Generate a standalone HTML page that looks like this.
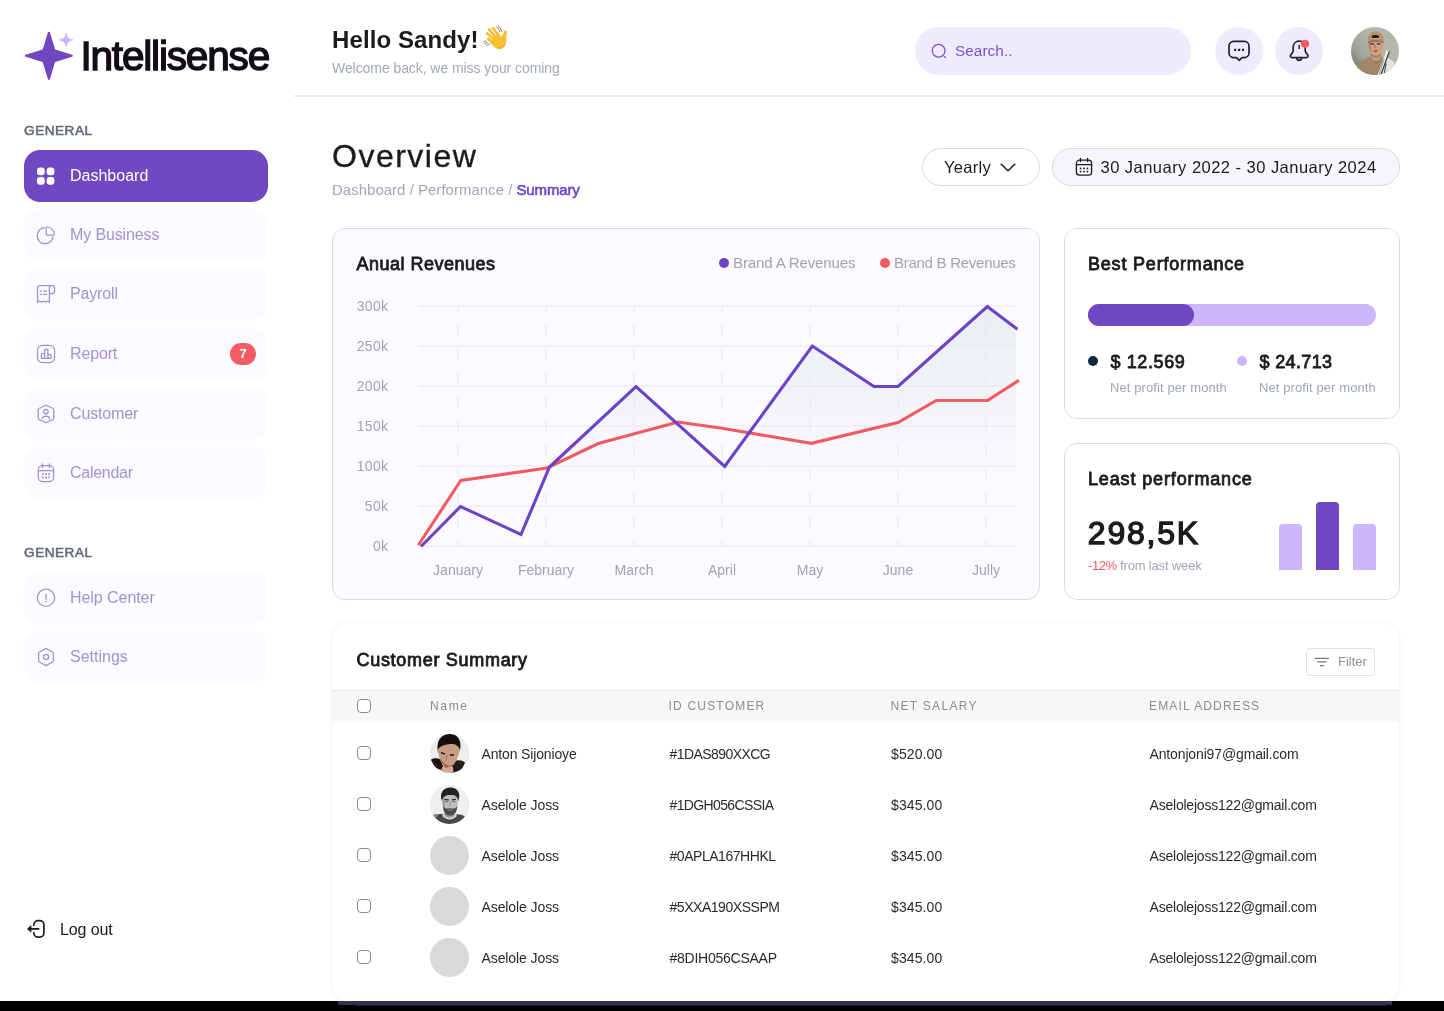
<!DOCTYPE html>
<html lang="en">
<head>
<meta charset="utf-8">
<title>Intellisense Dashboard</title>
<style>
*{box-sizing:border-box;margin:0;padding:0}
html,body{width:1444px;height:1011px;overflow:hidden;background:#fff}
body{font-family:"Liberation Sans",sans-serif;position:relative;color:#1b1b1f;will-change:transform}
.abs{position:absolute}
.t{position:absolute;white-space:nowrap;line-height:1}
/* sidebar */
.nav{position:absolute;left:24px;width:244px;height:52px;border-radius:16px;background:#fbfaff}
.nav.active{background:#7148c1;border-radius:16px}
.nav .lbl{position:absolute;left:46px;top:17.5px;font-size:16px;line-height:1;color:#a392cf;white-space:nowrap;letter-spacing:0}
.nav.active .lbl{color:#fff}
.nav svg{position:absolute;left:11px;top:15px;width:22px;height:22px;fill:none;stroke:#a38fd0;stroke-width:1.25;stroke-linecap:round;stroke-linejoin:round}
.sec{position:absolute;left:24.1px;font-size:13.6px;line-height:1;letter-spacing:.5px;color:#5f6875;-webkit-text-stroke:.55px #5f6875;white-space:nowrap}
/* header */
.hline{position:absolute;left:294px;top:95px;width:1150px;height:2px;background:#ebebed}
.circ{position:absolute;top:27px;width:48px;height:48px;border-radius:50%;background:#f0ebfc}
.card{position:absolute;border:1px solid #dcdce0;border-radius:13px;background:#fff}
.muted{color:#a1a6b7}
.sb{color:#1b1b1f;-webkit-text-stroke:.8px #1b1b1f}
.ylab{right:1055.7px;font-size:14px;letter-spacing:.3px;color:#9fa3b5;text-align:right}
.xlab{top:563.2px;font-size:14px;color:#9fa3b3;transform:translateX(-50%)}
/* table */
.th{position:absolute;top:700.3px;font-size:12px;line-height:1;color:#8d8d91;letter-spacing:1.3px;white-space:nowrap}
.td{position:absolute;font-size:14px;line-height:1;color:#2a2a2e;white-space:nowrap}
.cb{position:absolute;left:357px;width:14px;height:14px;border:1.35px solid #8a8a8e;border-radius:4px;background:#fff}
.av{position:absolute;left:430px;width:39px;height:39px;border-radius:50%;background:#d9d9d9;overflow:hidden}
</style>
</head>
<body>

<!-- ================= SIDEBAR ================= -->
<svg class="abs" style="left:22px;top:28px" width="56" height="56" viewBox="0 0 56 56">
  <path d="M26.9 4.9 L32.2 22.4 L49.7 27.8 L32.2 33.200 L26.900 50.800 L21.600 33.200 L4 27.800 L21.600 22.400 Z" fill="#7047c0" stroke="#7047c0" stroke-width="2.200" stroke-linejoin="round"/>
  <path d="M44.100 5 C44.700 9.300 46.200 10.900 51 11.900 C46.200 12.900 44.700 14.500 44.100 18.800 C43.500 14.500 42 12.900 37.200 11.900 C42 10.900 43.500 9.300 44.100 5Z" fill="#c9b2fa" stroke="#c9b2fa" stroke-width=".7" stroke-linejoin="round"/>
</svg>
<div class="t" id="logo" style="left:80.4px;top:36.3px;font-size:40.6px;letter-spacing:-1.2px;color:#120d18;-webkit-text-stroke:1.4px #120d18">Intellisense</div>

<div class="sec" style="top:123.7px">GENERAL</div>

<div class="nav active" style="top:150px">
  <svg viewBox="0 0 22 22" style="stroke:none;fill:#fff"><rect x="2" y="2.500" width="7.700" height="7.700" rx="3"/><rect x="11.700" y="2.500" width="7.700" height="7.700" rx="3"/><rect x="2" y="12" width="7.700" height="7.700" rx="3"/><rect x="11.700" y="12" width="7.700" height="7.700" rx="3"/></svg>
  <div class="lbl" style="letter-spacing:0.0px">Dashboard</div>
</div>
<div class="nav" style="top:209px">
  <svg viewBox="0 0 22 22"><path d="M9.6 3.700 A8 8 0 1 0 18.100 12.900"/><path d="M11.200 4 A1 1 0 0 1 12.200 3 A7.400 7.400 0 0 1 19.300 10 A1 1 0 0 1 18.300 11 H12.200 A1 1 0 0 1 11.200 10 Z"/></svg>
  <div class="lbl" style="letter-spacing:-0.12px">My Business</div>
</div>
<div class="nav" style="top:268px">
  <svg viewBox="0 0 22 22"><path d="M16.800 2.500 H4.900 A2.400 2.400 0 0 0 2.500 4.900 V19.300 L4.500 18 L6.500 19.300 L8.450 18 L10.400 19.300 L12.400 18 L14.400 19.300 V4.900 A2.400 2.400 0 0 1 16.800 2.500 A2.700 2.700 0 0 1 19.500 5.200 V8.500 A2 2 0 0 1 17.500 10.500 H14.400"/><path d="M5.200 8.100h1.200M8.600 8.100h2.800M5.200 11.400h1.200M8.600 11.400h2.800"/></svg>
  <div class="lbl" style="letter-spacing:-0.15px">Payroll</div>
</div>
<div class="nav" style="top:328px">
  <svg viewBox="0 0 22 22"><rect x="2.500" y="2.400" width="17.100" height="17.200" rx="5"/><path d="M6.400 15.300 V11.400 A.8 .8 0 0 1 7.200 10.600 H9.600 V15.300 Z M9.600 15.300 V7.100 A.8 .8 0 0 1 10.400 6.300 H12.100 A.8 .8 0 0 1 12.900 7.100 V15.300 Z M12.900 15.300 V11.500 H15.300 A.8 .8 0 0 1 16.100 12.300 V15.300 Z" stroke-width="1.250"/></svg>
  <div class="lbl" style="letter-spacing:-0.15px">Report</div>
  <div class="abs" style="left:206px;top:15px;width:26px;height:22px;border-radius:11px;background:#f25c62;color:#fff;font-size:13px;font-weight:bold;line-height:22px;text-align:center">7</div>
</div>
<div class="nav" style="top:388px">
  <svg viewBox="0 0 22 22"><path d="M11 2.2 L17.6 5.2 A2 2 0 0 1 18.8 7 V15 A2 2 0 0 1 17.6 16.8 L11 19.8 L4.4 16.8 A2 2 0 0 1 3.2 15 V7 A2 2 0 0 1 4.4 5.2 Z"/><circle cx="10.900" cy="8.600" r="2.250"/><path d="M7.100 15.900 A4 4 0 0 1 14.700 15.900"/></svg>
  <div class="lbl" style="letter-spacing:-0.15px">Customer</div>
</div>
<div class="nav" style="top:447px">
  <svg viewBox="0 0 22 22"><rect x="3.300" y="3.600" width="15.300" height="15.900" rx="4.200"/><path d="M3.300 8.500h15.300M7.400 1.900v3.700M14.400 1.900v3.700"/><path d="M8 12.200h.01M11 12.200h.01M14 12.200h.01M8 15.300h.01M11 15.300h.01M14 15.300h.01" stroke-width="1.700" stroke-linecap="square"/></svg>
  <div class="lbl" style="letter-spacing:-0.27px">Calendar</div>
</div>

<div class="sec" style="top:545.7px">GENERAL</div>

<div class="nav" style="top:572px">
  <svg viewBox="0 0 22 22"><circle cx="11" cy="10.800" r="8.600"/><path d="M11 7.300v5.200"/><path d="M11 14.500h.01" stroke-width="1.700"/></svg>
  <div class="lbl" style="letter-spacing:-0.06px">Help Center</div>
</div>
<div class="nav" style="top:631px">
  <svg viewBox="0 0 22 22"><path d="M11 2.4 L17.4 6 A1.8 1.8 0 0 1 18.4 7.6 V14.4 A1.8 1.8 0 0 1 17.4 16 L11 19.6 L4.6 16 A1.8 1.8 0 0 1 3.6 14.4 V7.6 A1.8 1.8 0 0 1 4.6 6 Z"/><circle cx="11" cy="11" r="2.6"/></svg>
  <div class="lbl" style="letter-spacing:0.0px">Settings</div>
</div>

<svg class="abs" style="left:24px;top:917px;fill:none;stroke:#1b1b1f;stroke-width:1.7;stroke-linecap:round;stroke-linejoin:round" width="24" height="24" viewBox="0 0 24 24"><path d="M9.800 8.200 V8 A4.100 4.100 0 0 1 13.900 3.700 H15.800 A4.100 4.100 0 0 1 19.900 7.800 V16 A4.100 4.100 0 0 1 15.800 20.100 H13.900 A4.100 4.100 0 0 1 9.800 16 V15.600"/><path d="M14.600 11.900 H5"/><path d="M6.800 9.200 L3.800 11.900 L6.800 14.600 Z" fill="#1b1b1f" stroke-width="1.200"/></svg>
<div class="t" style="left:60px;top:921.5px;font-size:16px;color:#1b1b1f;letter-spacing:-.1px">Log out</div>

<!-- ================= HEADER ================= -->
<div class="t" style="left:332px;top:27.6px;font-size:24px;font-weight:bold;color:#1b1b1f;letter-spacing:.1px">Hello Sandy!</div>
<svg class="abs" style="left:476px;top:20px" width="40" height="36" viewBox="0 0 40 36">
  <g stroke="#f9bd2d" stroke-width="2.7" stroke-linecap="round" fill="none">
    <path d="M16.9 8.2 L23.2 15.8"/><path d="M12.9 9.4 L20 17.4"/><path d="M11.3 13.4 L18.6 20"/><path d="M12.1 18.9 L18 23"/>
    <path d="M29.6 11.9 C29.2 13.6 28.4 15 27.6 17" stroke-width="3.1"/>
  </g>
  <path d="M20.2 14.5 L25.6 16.4 L27 13.5 L30.4 13 C30 17 30.6 19.5 30.3 22 C30 25.5 27 28.8 23.4 28.9 C20.6 29 18 26.6 15.8 24.6 L13.6 22.4 Z" fill="#fbc032"/>
  <path d="M30.3 22 C30 25.5 27 28.8 23.4 28.9 C21.6 29 20 28 18.6 26.9 C22 28.4 28 27.6 30.3 22Z" fill="#e9a11f" opacity=".75"/>
  <g stroke="#6a6a6a" stroke-width=".9" stroke-linecap="round" fill="none">
    <path d="M20.6 7.2 C22.2 8 23.4 9.8 23.8 11.7"/><path d="M22.2 6 C24 7 25.2 9.2 25.6 11.3"/>
    <path d="M7.8 21.4 C8.4 23.2 9.8 24.8 11.5 25.6"/><path d="M9.5 20.7 C10.2 22.4 11.6 23.9 13.3 24.6"/>
  </g>
</svg>
<div class="t muted" style="left:332px;top:61.4px;font-size:14px;letter-spacing:-.07px;color:#a3a7ba">Welcome back, we miss your coming</div>
<div class="hline"></div>

<div class="abs" style="left:915px;top:27px;width:276px;height:48px;border-radius:24px;background:#f0ebfc"></div>
<svg class="abs" style="left:929px;top:41px;fill:none;stroke:#7b52d3;stroke-width:1.3;stroke-linecap:round" width="20" height="20" viewBox="0 0 20 20"><circle cx="9.6" cy="9.8" r="6.4"/><path d="M15.2 15.6l1.2 .9"/></svg>
<div class="t" style="left:955px;top:43.2px;font-size:15.3px;color:#7a50d2;letter-spacing:.07px">Search..</div>

<div class="circ" style="left:1215px"></div>
<div class="circ" style="left:1275px"></div>
<svg class="abs" style="left:1225px;top:37px;fill:none;stroke:#231f3b;stroke-width:1.7;stroke-linecap:round;stroke-linejoin:round" width="28" height="28" viewBox="0 0 28 28">
  <path d="M8.6 4.4 H19.4 A4.6 4.6 0 0 1 24 9 V16 A4.6 4.6 0 0 1 19.4 20.6 H17 L14.2 23.4 L11.400 20.6 H8.6 A4.6 4.6 0 0 1 4 16 V9 A4.6 4.6 0 0 1 8.6 4.4 Z"/>
  <path d="M10.2 12.9h.01M14.1 12.9h.01M18 12.9h.01" stroke-width="2.1" stroke-linecap="square"/>
</svg>
<svg class="abs" style="left:1285px;top:37px;fill:none;stroke:#231f3b;stroke-width:1.7;stroke-linecap:round;stroke-linejoin:round" width="28" height="28" viewBox="0 0 28 28">
  <path d="M14.200 4.200 C10.4 4.200 8.2 7 8.2 10.4 V13.600 C8.2 15.4 7 16.6 5.900 17.600 C4.800 18.700 5.400 20.600 7.200 20.600 H21.200 C23 20.600 23.600 18.700 22.500 17.600 C21.400 16.600 20.200 15.400 20.200 13.600 V10.400 C20.200 7 18 4.200 14.200 4.200 Z"/>
  <path d="M11.600 20.800 C12 22.600 13 23.400 14.200 23.400 C15.400 23.400 16.400 22.600 16.800 20.800"/>
  <path d="M14.200 8.400 V11.600" stroke-width="1.5"/>
  <circle cx="20" cy="6.800" r="4.100" fill="#f45b61" stroke="none"/>
</svg>
<svg class="abs" style="left:1351px;top:27px" width="48" height="48" viewBox="0 0 48 48">
  <defs><clipPath id="cpa"><circle cx="24" cy="24" r="24"/></clipPath>
  <linearGradient id="gbg" x1="0" y1=".8" x2=".55" y2=".35"><stop offset="0" stop-color="#6d6f78"/><stop offset=".4" stop-color="#9fa299"/><stop offset="1" stop-color="#b3b7aa"/></linearGradient></defs>
  <g clip-path="url(#cpa)">
    <rect width="48" height="48" fill="url(#gbg)"/>
    <path d="M35.500 30 L43.500 35 L40 46 L28 50 Z" fill="#e2e7d9"/>
    <path d="M4.800 37.200 C9 34 15 31.500 19.800 29.200 L29.800 29.200 C31.200 30 32.400 30.800 33.400 31.800 L27.500 48 H8 Z" fill="#a08769"/>
    <path d="M19.800 29.200 C21 33.500 23 36 25.200 37 C27 35.500 28.800 33 29.800 29.200 Z" fill="#8a7258"/>
    <path d="M20.200 24 H29.600 V31 C27.500 35.500 22.500 35.500 20.200 31 Z" fill="#c59a7b"/>
    <path d="M20.200 26.500 C22.500 29.500 27 29.500 29.600 26.500 V28.500 C27 31 22.500 31 20.200 28.500 Z" fill="#9c7359" opacity=".8"/>
    <path d="M17.400 14 C17.400 9 32.400 9 32.600 14 C33 19 32 23 29.600 26 C27.200 28.800 22.400 28.800 20.200 26 C18 23 17.200 19 17.400 14 Z" fill="#cda081"/>
    <path d="M17.400 14.500 C17.300 19 18 23 20.200 26 C20.400 22 19.600 18 20 14.500 Z" fill="#a57a60" opacity=".75"/>
    <path d="M17 14.800 C16.200 8 19.800 4.200 24.800 4.200 C29.800 4.200 33.200 8 32.600 14.800 C28 12.800 21.500 12.800 17 14.800 Z" fill="#bb8f72"/>
    <path d="M17 14.800 C21.500 12.800 28 12.800 32.600 14.800 L32.500 16 C28 14.300 21.500 14.300 17.100 16 Z" fill="#8d6750"/>
    <ellipse cx="24.400" cy="9.800" rx="3.700" ry="1.800" fill="#1b1512"/>
    <path d="M21.200 11.500 h6.400" stroke="#d7ad8e" stroke-width="1.100"/>
    <path d="M19.600 16.900 h3.400 M25.900 16.900 h3.400" stroke="#33282a" stroke-width="1.300"/>
    <path d="M23.900 17.600 V21.300" stroke="#94705a" stroke-width="1.100"/>
    <ellipse cx="24.600" cy="24.100" rx="2.200" ry="1.050" fill="#c9504f"/>
    <path d="M35.600 23.600 L38.400 24.200 L29.200 49 L26.400 49 Z" fill="#f3f5ee"/>
    <path d="M38.400 24.200 L32.400 41 L29.800 48" stroke="#33363f" stroke-width="1.200" fill="none"/>
    <path d="M35.200 36.500 L33.200 46.500" stroke="#3a3d45" stroke-width="1" fill="none"/>
    <path d="M33.200 32.500 L28.400 47" stroke="#74777a" stroke-width=".7" fill="none"/>
  </g>
</svg>

<!-- ================= OVERVIEW ================= -->
<div class="t" style="left:332px;top:140px;font-size:32px;color:#1b1b1f;letter-spacing:1.5px;-webkit-text-stroke:.35px #1b1b1f">Overview</div>
<div class="t" style="left:332px;top:182.4px;font-size:15px;letter-spacing:.01px;color:#a3a7ba"><span id="bc1">Dashboard / Performance / </span><span id="t_sum" style="color:#6c47c7;-webkit-text-stroke:.6px #6c47c7;letter-spacing:-.15px">Summary</span></div>

<div class="abs" style="left:922px;top:148px;width:118px;height:38px;border-radius:19px;border:1px solid #d9d9de;background:#fff"></div>
<div class="t" style="left:944px;top:158.6px;font-size:16.5px;letter-spacing:.3px;color:#1b1b1f">Yearly</div>
<svg class="abs" style="left:999px;top:160px;fill:none;stroke:#1b1b1f;stroke-width:1.5;stroke-linecap:round;stroke-linejoin:round" width="18" height="14" viewBox="0 0 18 14"><path d="M2.2 4.2 L9 10.8 L15.8 4.2"/></svg>

<div class="abs" style="left:1052px;top:148px;width:348px;height:38px;border-radius:19px;border:1px solid #d9d9de;background:#f5f5fc"></div>
<svg class="abs" style="left:1073px;top:156px;fill:none;stroke:#1b1b1f;stroke-width:1.3;stroke-linecap:round;stroke-linejoin:round" width="22" height="22" viewBox="0 0 22 22"><rect x="3.4" y="4.2" width="15.2" height="15" rx="3.2"/><path d="M3.4 8.6h15.2M7.4 2.4v3.2M14.6 2.4v3.2"/><path d="M7.6 12.4h.01M11 12.4h.01M14.4 12.4h.01M7.6 15.6h.01M11 15.6h.01M14.4 15.6h.01" stroke-width="1.8"/></svg>
<div class="t" style="left:1100.5px;top:158.6px;font-size:16.5px;letter-spacing:.47px;color:#1b1b1f">30 January 2022 - 30 January 2024</div>

<!-- ================= CHART CARD ================= -->
<div class="card" style="left:332px;top:228px;width:708px;height:372px;background:#fcfaff"></div>
<div class="t sb" id="t_anual" style="left:356.5px;top:254.8px;font-size:18px;letter-spacing:.5px">Anual Revenues</div>
<div class="abs" style="left:719px;top:257.5px;width:10px;height:10px;border-radius:50%;background:#6c43c6"></div>
<div class="t" style="left:733px;top:255.3px;font-size:15px;letter-spacing:-.12px;color:#9fa3b3">Brand A Revenues</div>
<div class="abs" style="left:879.5px;top:257.5px;width:10px;height:10px;border-radius:50%;background:#f05b60"></div>
<div class="t" style="left:894px;top:255.3px;font-size:15px;letter-spacing:-.27px;color:#9fa3b3">Brand B Revenues</div>

<div class="t ylab" style="top:299px">300k</div>
<div class="t ylab" style="top:339px">250k</div>
<div class="t ylab" style="top:379px">200k</div>
<div class="t ylab" style="top:419px">150k</div>
<div class="t ylab" style="top:459px">100k</div>
<div class="t ylab" style="top:499px">50k</div>
<div class="t ylab" style="top:539px">0k</div>

<div class="t xlab" style="left:458px">January</div>
<div class="t xlab" style="left:546px">February</div>
<div class="t xlab" style="left:634px">March</div>
<div class="t xlab" style="left:722px">April</div>
<div class="t xlab" style="left:810px">May</div>
<div class="t xlab" style="left:898px">June</div>
<div class="t xlab" style="left:986px">Jully</div>

<svg class="abs" style="left:400px;top:290px" width="640" height="270" viewBox="400 290 640 270">
  <defs>
    <linearGradient id="ga" x1="0" y1="306" x2="0" y2="546" gradientUnits="userSpaceOnUse">
      <stop offset="0" stop-color="#e0e8ed" stop-opacity=".66"/>
      <stop offset=".38" stop-color="#e3eaf0" stop-opacity=".42"/>
      <stop offset=".72" stop-color="#ece9f6" stop-opacity="0"/>
      <stop offset="1" stop-color="#f4f2fb" stop-opacity="0"/>
    </linearGradient>
  </defs>
  <g stroke="#f1f0f5" stroke-width="2">
    <path d="M418 306H1016M418 346H1016M418 386H1016M418 426H1016M418 466H1016M418 506H1016M418 546H1016"/>
    <path d="M458 306V546M546 306V546M634 306V546M722 306V546M810 306V546M898 306V546M986 306V546" stroke-dasharray="12 12" stroke-dashoffset="6"/>
  </g>
  <path d="M421 546.5 L460.5 506.5 L521 534.5 L549.5 467 L636 386.5 L724.7 466.5 L812.3 346 L874 386.5 L898 386.5 L987.3 306.5 L1016 328 L1016 546.5 Z" fill="url(#ga)"/>
  <path d="M418.4 545 L460.8 480.5 L547 468 L598.3 443.5 L678 422 L722 428.3 L811.3 443.3 L898 422.5 L936.2 400.5 L987.5 400.5 L1019 380.3" fill="none" stroke="#f05b60" stroke-width="3.1" stroke-linejoin="miter"/>
  <path d="M421 546.5 L460.5 506.5 L521 534.5 L549.5 467 L636 386.5 L724.7 466.5 L812.3 346 L874 386.5 L898 386.5 L987.3 306.5 L1017.5 329.3" fill="none" stroke="#6c43c6" stroke-width="3.1" stroke-linejoin="miter"/>
</svg>

<!-- ================= BEST PERFORMANCE ================= -->
<div class="card" style="left:1064px;top:228px;width:336px;height:191px"></div>
<div class="t sb" id="t_best" style="left:1088px;top:254.8px;font-size:18px;letter-spacing:.8px">Best Performance</div>
<div class="abs" style="left:1088px;top:304px;width:288px;height:22px;border-radius:11px;background:#cdb6fb"></div>
<div class="abs" style="left:1088px;top:304px;width:106px;height:22px;border-radius:11px;background:#7047c0"></div>
<div class="abs" style="left:1088px;top:355.8px;width:10px;height:10px;border-radius:50%;background:#0f2b3d"></div>
<div class="t sb" id="t_d1" style="left:1110.5px;top:352.8px;font-size:18px;letter-spacing:.6px">$ 12.569</div>
<div class="t" style="left:1110px;top:381px;font-size:13px;letter-spacing:.1px;color:#a0a4b8">Net profit per month</div>
<div class="abs" style="left:1237px;top:355.8px;width:10px;height:10px;border-radius:50%;background:#cdb6fb"></div>
<div class="t sb" id="t_d2" style="left:1259.5px;top:352.8px;font-size:18px;letter-spacing:.35px">$ 24.713</div>
<div class="t" style="left:1259px;top:381px;font-size:13px;letter-spacing:.1px;color:#a0a4b8">Net profit per month</div>

<!-- ================= LEAST PERFORMANCE ================= -->
<div class="card" style="left:1064px;top:443px;width:336px;height:157px"></div>
<div class="t sb" id="t_least" style="left:1088px;top:469.8px;font-size:18px;letter-spacing:.86px">Least performance</div>
<div class="t" id="t_298" style="left:1087.8px;top:517.4px;font-size:32px;letter-spacing:1.8px;color:#1b1b1f;-webkit-text-stroke:1.3px #1b1b1f">298,5K</div>
<div class="t" style="left:1088px;top:559px;font-size:13px;letter-spacing:-.16px;color:#a0a4b8"><span style="color:#f0585f;letter-spacing:-.45px">-12%</span> from last week</div>
<div class="abs" style="left:1279px;top:524px;width:23px;height:46px;border-radius:4px 4px 0 0;background:#cdb6fb"></div>
<div class="abs" style="left:1316px;top:502px;width:23px;height:68px;border-radius:4px 4px 0 0;background:#7047c0"></div>
<div class="abs" style="left:1353px;top:524px;width:23px;height:46px;border-radius:4px 4px 0 0;background:#cdb6fb"></div>

<!-- ================= CUSTOMER SUMMARY ================= -->
<div class="abs" style="left:332px;top:623.400px;width:1067.400px;height:377.600px;border-radius:16px;background:#fff;box-shadow:0 0 1.500px rgba(110,100,150,.22),0 1px 6px rgba(150,130,210,.06)"></div>
<div class="t sb" id="t_cust" style="left:356.5px;top:650.8px;font-size:18px;letter-spacing:.7px">Customer Summary</div>
<div class="abs" style="left:1306px;top:648px;width:69px;height:28px;border:1px solid #e1e1e4;border-radius:4px;background:#fff"></div>
<svg class="abs" style="left:1313px;top:654px;fill:none;stroke:#77777b;stroke-width:1.4;stroke-linecap:round" width="18" height="16" viewBox="0 0 18 16"><path d="M2.400 4.400h13M4.800 7.900h8.200M7.400 11.600h3"/></svg>
<div class="t" style="left:1338px;top:655.2px;font-size:13px;color:#8f8f93">Filter</div>

<div class="abs" style="left:332px;top:690px;width:1067.400px;height:32px;background:#f7f7f7;border-top:1px solid #e8e8ea"></div>
<div class="cb" style="top:699.0px"></div>
<div class="th" style="left:430px;letter-spacing:1.65px">Name</div>
<div class="th" style="left:668.5px;letter-spacing:1.2px">ID CUSTOMER</div>
<div class="th" style="left:890.5px">NET SALARY</div>
<div class="th" style="left:1149px;letter-spacing:1.15px">EMAIL ADDRESS</div>
<div class="cb" style="top:746.0px"></div>
<div class="av" id="av1" style="top:734.0px"><svg width="39" height="39" viewBox="0 0 39 39"><rect width="39" height="39" fill="#eeeeee"/>
<path d="M0.500 26 C3 23.800 7 23.600 10.500 25.500 L15 37 L5 34 Z" fill="#1a1310"/>
<path d="M22.500 28.500 C26 25.500 31 25.500 35 28.500 L31 37 L21 40 Z" fill="#1c1411"/>
<path d="M7.600 13.500 C6.500 14 6.800 18 8.600 19.500 C9 24 11 29 14.500 32.500 C17 35 20.500 34.500 23 31.500 C26.500 27.500 28.500 22.500 29.200 17.500 C30.800 16.500 31 13.500 29.800 13.500 C27 7 11 7 7.600 13.500 Z" fill="#c99d84"/>
<path d="M9.500 22 C11 27 13 31 16 33.500 C18.500 35 21.500 33.500 23.500 30.500 C21 32.500 17 32 14.500 29.500 C12.500 27.500 10.500 25 9.500 22Z" fill="#6f4d3e" opacity=".75"/>
<path d="M12 33 C14.500 31.500 19.500 31.500 23 33 L23.500 39 H11 Z" fill="#d6aa92"/>
<path d="M7.800 15.500 C6.500 7 11 0.300 19.500 0 C27.500 -0.200 32 6 30 15.500 C28 11.500 25.500 9.500 20.500 10 C15 10.500 10.500 11.500 7.800 15.500 Z" fill="#150f0e"/>
<path d="M11 18.500 l4 1.600 M19.800 21.300 l4.200 -.5" stroke="#231815" stroke-width="1.500"/>
<path d="M17 21 L15.600 27.500" stroke="#a87b64" stroke-width="1.100"/>
<ellipse cx="16.600" cy="32.400" rx="2.400" ry="1.250" fill="#c4525a"/>
<path d="M24.500 30 l5 4.500 M27.500 28 l5 5 M2.500 27.500 l5 4.500 M29 27 l3.500 2.500" stroke="#7a4630" stroke-width=".8" opacity=".75"/>
</svg></div>
<div class="td c1" style="left:481.5px;top:746.9px;letter-spacing:-0.15px">Anton Sijonioye</div>
<div class="td c2" style="left:669.5px;top:746.9px;letter-spacing:-0.56px">#1DAS890XXCG</div>
<div class="td c3" style="left:891px;top:746.9px;letter-spacing:0.1px">$520.00</div>
<div class="td c4" style="left:1149.5px;top:746.9px;letter-spacing:-0.14px">Antonjoni97@gmail.com</div>
<div class="cb" style="top:797.0px"></div>
<div class="av" id="av2" style="top:785.0px"><svg width="39" height="39" viewBox="0 0 39 39"><rect width="39" height="39" fill="#efefef"/>
<path d="M2 30.800 C6 29.500 10 28.500 14 29.500 L25 29.500 C28 28.800 32 29.500 35 31.500 L32 40 H5 Z" fill="#474747"/>
<path d="M2 30.800 L5.500 28.800 L8.500 29.300 L6 33 Z" fill="#8d8d8d"/>
<path d="M13.200 28.200 H25.800 L26.800 31 C23 35.500 16.500 35.500 12.200 31 Z" fill="#d6d6d6"/>
<path d="M14.800 24 H24.200 V31 C22 33.200 17 33.200 14.800 31 Z" fill="#9c9c9c"/>
<path d="M12.400 12 C12.400 6.500 27.800 6.500 27.800 12 C28.200 18 27.800 23 25.700 26.500 C23.500 30.200 17 30.200 14.600 26.500 C12.600 23 12.200 18 12.400 12 Z" fill="#bdbdbd"/>
<path d="M12.400 13 C12.300 19 12.800 23.500 14.600 26.500 C15.200 22 14.600 17 15 13 Z" fill="#8a8a8a" opacity=".7"/>
<path d="M13.200 21 C14.500 24.200 17 23.700 20 23.300 C23 23.700 25.600 24.200 27.200 21 C27.200 25 26 28.200 23.500 29.700 C21 30.900 18.500 30.900 16.500 29.700 C14 28.200 13 25 13.200 21 Z" fill="#4b4b4b"/>
<path d="M11.800 16 C9 8 13.500 2.500 20.500 2.600 C27.500 2.700 31.200 8 28.400 16 C27.700 12 25.500 9.500 20.500 10 C15.500 9.600 12.600 12 11.800 16 Z" fill="#232323"/>
<path d="M14.600 14.300 l4.200 .5 M21.800 14.800 l4.200 -.5" stroke="#2c2c2c" stroke-width="1.300"/>
<path d="M15.200 16.600 h3 M22.200 16.600 h3" stroke="#555" stroke-width=".9"/>
<path d="M20.200 16 L19.600 21.200" stroke="#969696" stroke-width="1"/>
<path d="M17.500 25 h5.500" stroke="#8f8f8f" stroke-width=".9"/>
</svg></div>
<div class="td c1" style="left:481.5px;top:797.9px;letter-spacing:-0.09px">Aselole Joss</div>
<div class="td c2" style="left:669.5px;top:797.9px;letter-spacing:-0.63px">#1DGH056CSSIA</div>
<div class="td c3" style="left:891px;top:797.9px;letter-spacing:0.1px">$345.00</div>
<div class="td c4" style="left:1149.5px;top:797.9px;letter-spacing:-0.21px">Aselolejoss122@gmail.com</div>
<div class="cb" style="top:848.0px"></div>
<div class="av" id="av3" style="top:836.0px"></div>
<div class="td c1" style="left:481.5px;top:848.9px;letter-spacing:-0.09px">Aselole Joss</div>
<div class="td c2" style="left:669.5px;top:848.9px;letter-spacing:-0.46px">#0APLA167HHKL</div>
<div class="td c3" style="left:891px;top:848.9px;letter-spacing:0.1px">$345.00</div>
<div class="td c4" style="left:1149.5px;top:848.9px;letter-spacing:-0.21px">Aselolejoss122@gmail.com</div>
<div class="cb" style="top:899.0px"></div>
<div class="av" id="av4" style="top:887.0px"></div>
<div class="td c1" style="left:481.5px;top:899.9px;letter-spacing:-0.09px">Aselole Joss</div>
<div class="td c2" style="left:669.5px;top:899.9px;letter-spacing:-0.46px">#5XXA190XSSPM</div>
<div class="td c3" style="left:891px;top:899.9px;letter-spacing:0.1px">$345.00</div>
<div class="td c4" style="left:1149.5px;top:899.9px;letter-spacing:-0.21px">Aselolejoss122@gmail.com</div>
<div class="cb" style="top:950.0px"></div>
<div class="av" id="av5" style="top:938.0px"></div>
<div class="td c1" style="left:481.5px;top:950.9px;letter-spacing:-0.09px">Aselole Joss</div>
<div class="td c2" style="left:669.5px;top:950.9px;letter-spacing:-0.25px">#8DIH056CSAAP</div>
<div class="td c3" style="left:891px;top:950.9px;letter-spacing:0.1px">$345.00</div>
<div class="td c4" style="left:1149.5px;top:950.9px;letter-spacing:-0.21px">Aselolejoss122@gmail.com</div>


<!-- bottom bar -->
<div class="abs" style="left:0;top:1001px;width:1444px;height:10px;background:#000"></div>
<div class="abs" style="left:338px;top:1001px;width:1054px;height:4px;background:#33324e"></div>
<div class="abs" style="left:356px;top:1005px;width:1030px;height:1px;background:#1d1c30"></div>
</body>
</html>
